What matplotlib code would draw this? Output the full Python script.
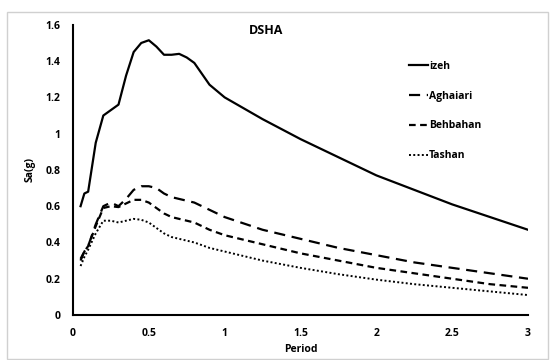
import matplotlib
matplotlib.use("Agg")
import matplotlib.pyplot as plt
from matplotlib.patches import Rectangle

plt.rcParams['font.family'] = ['Open Sans', 'DejaVu Sans']
plt.rcParams['font.weight'] = 'bold'

period = [0.05, 0.075, 0.1, 0.15, 0.2, 0.25, 0.3, 0.35, 0.4, 0.45, 0.5, 0.55, 0.6, 0.65,
          0.7, 0.75, 0.8, 0.85, 0.9, 1.0, 1.25, 1.5, 1.75, 2.0, 2.25, 2.5, 2.75, 3.0]

izeh = [0.60, 0.67, 0.68, 0.95, 1.10, 1.13, 1.16, 1.32, 1.45, 1.50, 1.515, 1.48, 1.435, 1.435,
        1.44, 1.42, 1.39, 1.33, 1.27, 1.20, 1.08, 0.97, 0.87, 0.77, 0.69, 0.61, 0.54, 0.47]
aghaiari = [0.30, 0.35, 0.38, 0.50, 0.60, 0.62, 0.60, 0.64, 0.69, 0.71, 0.71, 0.70, 0.67, 0.65,
            0.64, 0.63, 0.62, 0.60, 0.58, 0.54, 0.47, 0.42, 0.37, 0.33, 0.29, 0.26, 0.23, 0.20]
behbahan = [0.31, 0.35, 0.38, 0.49, 0.59, 0.60, 0.595, 0.615, 0.635, 0.635, 0.62, 0.59, 0.56, 0.54,
            0.53, 0.52, 0.51, 0.49, 0.47, 0.44, 0.39, 0.34, 0.30, 0.26, 0.23, 0.20, 0.17, 0.15]
tashan = [0.27, 0.32, 0.36, 0.45, 0.52, 0.52, 0.51, 0.52, 0.53, 0.525, 0.51, 0.48, 0.45, 0.43,
          0.42, 0.41, 0.40, 0.385, 0.37, 0.35, 0.30, 0.26, 0.225, 0.195, 0.17, 0.15, 0.13, 0.11]

x_ticks = [0, 0.5, 1, 1.5, 2, 2.5, 3]
x_tick_labels = ['0', '0.5', '1', '1.5', '2', '2.5', '3']
y_ticks = [0, 0.2, 0.4, 0.6, 0.8, 1.0, 1.2, 1.4, 1.6]
y_tick_labels = ['0', '0.2', '0.4', '0.6', '0.8', '1', '1.2', '1.4', '1.6']

fig = plt.figure(figsize=(5.5, 3.6), dpi=100)
ax = fig.add_axes([0.1327, 0.125, 0.8273, 0.806])

# cadre gris du graphique
fig.patches.append(Rectangle((7 / 550, 1 / 360), 541 / 550, 347 / 360, transform=fig.transFigure,
                             fill=False, edgecolor='#d0d0d0', linewidth=1))

ax.plot(period, izeh, color='black', linewidth=1.6, linestyle='-', label='izeh')
ax.plot(period, aghaiari, color='black', linewidth=1.6, linestyle=(0, (5, 3)), label='Aghaiari')
ax.plot(period, behbahan, color='black', linewidth=1.6, linestyle=(0, (3, 2)), label='Behbahan')
ax.plot(period, tashan, color='black', linewidth=1.4, linestyle=(0, (1, 1.2)), label='Tashan')

ax.set_xlim(0, 3)
ax.set_ylim(0, 1.6)
ax.set_xticks(x_ticks)
ax.set_xticklabels(x_tick_labels, fontweight='bold')
ax.set_yticks(y_ticks)
ax.set_yticklabels(y_tick_labels, fontweight='bold')
ax.tick_params(length=0, labelsize=7.5, pad=9)
ax.tick_params(axis='y', pad=9)

for side in ['top', 'right']:
    ax.spines[side].set_visible(False)
for side in ['left', 'bottom']:
    ax.spines[side].set_linewidth(1.5)

ax.set_xlabel('Period', fontsize=7.5, fontweight='bold', labelpad=4)
ax.set_ylabel('Sa(g)', fontsize=7.5, fontweight='bold', labelpad=7)
ax.text(1.27, 1.57, 'DSHA', fontsize=9, fontweight='bold', ha='center', va='center')

leg = ax.legend(loc='upper left', bbox_to_anchor=(0.73, 0.89), frameon=False,
                handlelength=1.8, handletextpad=0.1, labelspacing=1.8, borderaxespad=0,
                prop={'weight': 'bold', 'size': 7.5})

fig.savefig('out.png', dpi=100)
